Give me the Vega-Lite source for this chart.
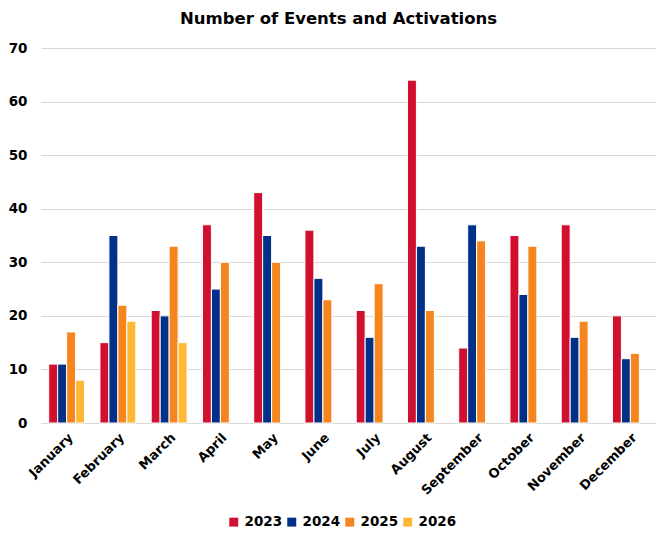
{
  "$schema": "https://vega.github.io/schema/vega-lite/v6.json",
  "width": 615,
  "height": 375,
  "autosize": {"type": "none"},
  "padding": {"left": 41, "top": 48, "right": 0, "bottom": 110},
  "background": "white",
  "config": {
    "font": "DejaVu Sans",
    "view": {"stroke": null}
  },
  "title": {
    "text": "Number of Events and Activations",
    "fontSize": 16.5,
    "fontWeight": "bold",
    "color": "black",
    "offset": 14,
    "anchor": "start",
    "frame": "group",
    "dx": 139
  },
  "data": {
    "values": [
      {"month": "January", "year": "2023", "value": 11},
      {"month": "January", "year": "2024", "value": 11},
      {"month": "January", "year": "2025", "value": 17},
      {"month": "January", "year": "2026", "value": 8},
      {"month": "February", "year": "2023", "value": 15},
      {"month": "February", "year": "2024", "value": 35},
      {"month": "February", "year": "2025", "value": 22},
      {"month": "February", "year": "2026", "value": 19},
      {"month": "March", "year": "2023", "value": 21},
      {"month": "March", "year": "2024", "value": 20},
      {"month": "March", "year": "2025", "value": 33},
      {"month": "March", "year": "2026", "value": 15},
      {"month": "April", "year": "2023", "value": 37},
      {"month": "April", "year": "2024", "value": 25},
      {"month": "April", "year": "2025", "value": 30},
      {"month": "May", "year": "2023", "value": 43},
      {"month": "May", "year": "2024", "value": 35},
      {"month": "May", "year": "2025", "value": 30},
      {"month": "June", "year": "2023", "value": 36},
      {"month": "June", "year": "2024", "value": 27},
      {"month": "June", "year": "2025", "value": 23},
      {"month": "July", "year": "2023", "value": 21},
      {"month": "July", "year": "2024", "value": 16},
      {"month": "July", "year": "2025", "value": 26},
      {"month": "August", "year": "2023", "value": 64},
      {"month": "August", "year": "2024", "value": 33},
      {"month": "August", "year": "2025", "value": 21},
      {"month": "September", "year": "2023", "value": 14},
      {"month": "September", "year": "2024", "value": 37},
      {"month": "September", "year": "2025", "value": 34},
      {"month": "October", "year": "2023", "value": 35},
      {"month": "October", "year": "2024", "value": 24},
      {"month": "October", "year": "2025", "value": 33},
      {"month": "November", "year": "2023", "value": 37},
      {"month": "November", "year": "2024", "value": 16},
      {"month": "November", "year": "2025", "value": 19},
      {"month": "December", "year": "2023", "value": 20},
      {"month": "December", "year": "2024", "value": 12},
      {"month": "December", "year": "2025", "value": 13}
    ]
  },
  "mark": {"type": "bar", "stroke": "white", "strokeWidth": 1},
  "encoding": {
    "x": {
      "field": "month",
      "type": "nominal",
      "sort": ["January","February","March","April","May","June","July","August","September","October","November","December"],
      "scale": {"paddingInner": 0.3, "paddingOuter": 0.15},
      "axis": {
        "title": null,
        "labelAngle": -45,
        "labelFontSize": 13,
        "labelFontWeight": "bold",
        "labelColor": "black",
        "ticks": false,
        "domainColor": "#d9d9d9",
        "labelPadding": 8
      }
    },
    "xOffset": {
      "field": "year",
      "type": "nominal",
      "scale": {"domain": ["2023","2024","2025","2026"]}
    },
    "y": {
      "field": "value",
      "type": "quantitative",
      "scale": {"domain": [0, 70]},
      "axis": {
        "title": null,
        "values": [0,10,20,30,40,50,60,70],
        "labelFontSize": 13.5,
        "labelFontWeight": "bold",
        "labelColor": "black",
        "ticks": false,
        "domain": false,
        "gridColor": "#d9d9d9",
        "labelPadding": 14
      }
    },
    "color": {
      "field": "year",
      "type": "nominal",
      "scale": {
        "domain": ["2023","2024","2025","2026"],
        "range": ["#D0102F", "#003087", "#F5851F", "#FDB933"]
      },
      "legend": {
        "title": null,
        "orient": "none",
        "legendX": 186,
        "legendY": 467,
        "direction": "horizontal",
        "symbolType": "square",
        "symbolSize": 80,
        "symbolStrokeWidth": 0,
        "labelFontSize": 13.5,
        "labelFontWeight": "bold",
        "labelColor": "black",
        "labelOffset": 4,
        "columnPadding": 2
      }
    }
  }
}
